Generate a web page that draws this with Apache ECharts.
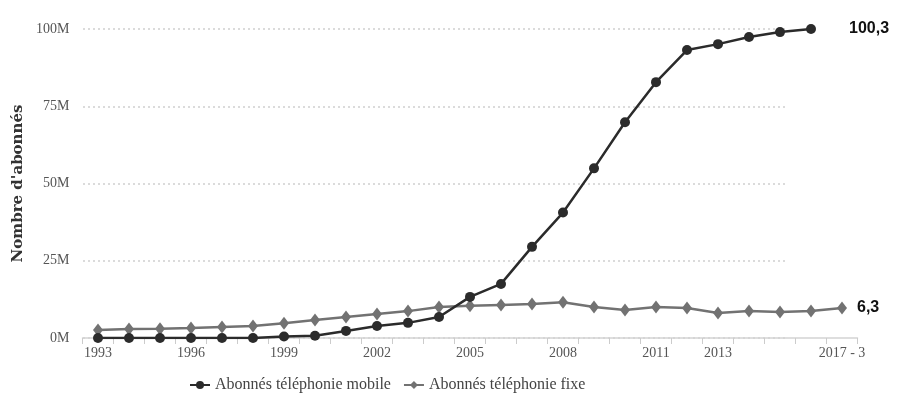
<!DOCTYPE html>
<html>
<head>
<meta charset="utf-8">
<script src="https://cdn.jsdelivr.net/npm/echarts@6/dist/echarts.min.js"></script>
<style>
html,body{margin:0;padding:0;background:#fff;}
#chart{width:898px;height:399px;}
</style>
</head>
<body>
<div id="chart"></div>
<script>
// categories (annees)
var years = ['1993','1994','1995','1996','1997','1998','1999','2000','2001','2002','2003','2004',
	'2005','2006','2007','2008','2009','2010','2011','2012','2013','2014','2015','2016','2017 - 3'];
// libelles visibles sur l'axe x
var xLabels = ['1993','1996','1999','2002','2005','2008','2011','2013','2017 - 3'];
// millions d'abonnes
var mobile = [0,0,0,0,0,0,0.5,0.7,2.3,3.9,4.9,6.8,13.3,17.5,29.5,40.6,54.9,69.8,82.8,93.2,95.1,97.4,99,100];
var fixe = [2.6,2.9,3,3.2,3.6,3.9,4.8,5.8,6.8,7.8,8.7,10,10.4,10.7,11,11.6,10,9.1,10,9.7,8.1,8.7,8.4,8.7,9.7];
var yTicks = [0,25,50,75,100];
var endLabels = ['100,3','6,3'];
var seriesNames = ['Abonnés téléphonie mobile','Abonnés téléphonie fixe'];

var serif = '"Liberation Serif", "DejaVu Serif", serif';
var chart = echarts.init(document.getElementById('chart'));
var option = {
	animation:false,
	backgroundColor:'#fff',
	grid:[
		{left:82.5,right:40.5,top:29,bottom:61,outerBoundsMode:'none'},
		{left:83,right:113,top:29,bottom:61,outerBoundsMode:'none'}//lignes pointillees plus courtes
	],
	legend:{
		bottom:1,left:184,
		itemWidth:20,itemHeight:10,itemGap:12,
		textStyle:{fontFamily:serif,fontSize:16,color:'#444'},
		data:seriesNames
	},
	xAxis:[{
		type:'category',gridIndex:0,data:years,boundaryGap:true,
		axisLine:{lineStyle:{color:'#d4d4d4',width:1.5}},
		axisTick:{show:true,interval:0,length:6,lineStyle:{color:'#cccccc'}},
		axisLabel:{
			interval:function(i,v){return xLabels.indexOf(v)>=0;},
			fontFamily:serif,fontSize:14,color:'#555',margin:8
		}
	},{
		type:'value',gridIndex:1,show:false,min:0,max:1
	}],
	yAxis:[{
		type:'value',gridIndex:0,min:yTicks[0],max:yTicks[yTicks.length-1],interval:25,
		name:"Nombre d'abonnés",nameLocation:'middle',nameGap:56,nameRotate:90,
		nameTextStyle:{fontFamily:'"DejaVu Serif", serif',fontSize:15,fontWeight:'bold',color:'#333'},
		axisLine:{show:false},axisTick:{show:false},
		axisLabel:{formatter:'{value}M',fontFamily:serif,fontSize:14,color:'#555',margin:13},
		splitLine:{show:false}
	},{
		type:'value',gridIndex:1,min:0,max:100,interval:25,
		axisLine:{show:false},axisTick:{show:false},axisLabel:{show:false},
		splitLine:{show:true,lineStyle:{color:'#cfcfcf',type:[2,3],width:1.5}}
	}],
	series:[{
		name:seriesNames[0],type:'line',data:mobile,z:3,
		symbol:'circle',symbolSize:10,
		lineStyle:{color:'#2b2b2b',width:2.5},
		itemStyle:{color:'#2b2b2b'},
		endLabel:{show:true,formatter:endLabels[0],distance:38,
			fontFamily:'"Liberation Sans", Arial, sans-serif',fontSize:16,fontWeight:'bold',color:'#111'}
	},{
		name:seriesNames[1],type:'line',data:fixe,z:2,
		symbol:'diamond',symbolSize:[10,13],
		lineStyle:{color:'#727272',width:2.5},
		itemStyle:{color:'#727272'},
		endLabel:{show:true,formatter:endLabels[1],distance:15,
			fontFamily:'"Liberation Sans", Arial, sans-serif',fontSize:16,fontWeight:'bold',color:'#111'}
	},{
		type:'line',xAxisIndex:1,yAxisIndex:1,data:[],silent:true
	}]
};
chart.setOption(option);
</script>
</body>
</html>
